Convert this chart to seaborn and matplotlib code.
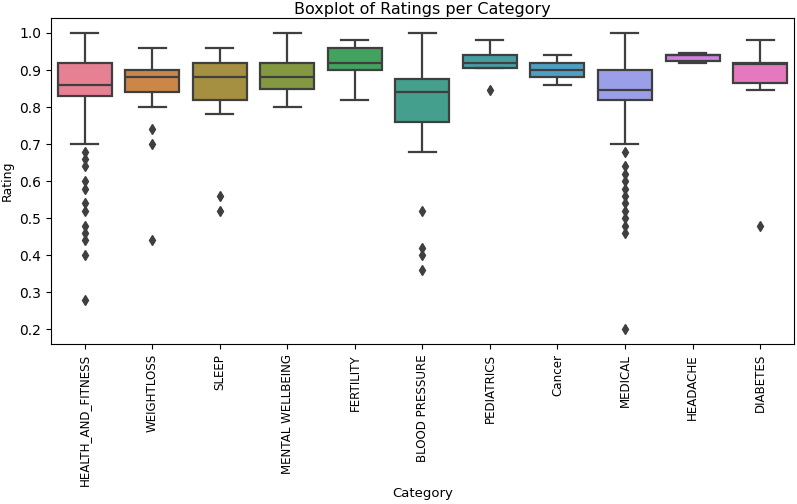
import pandas as pd
import matplotlib
matplotlib.use("Agg")
import matplotlib.pyplot as plt
import seaborn as sns

categories = ["HEALTH_AND_FITNESS", "WEIGHTLOSS", "SLEEP", "MENTAL WELLBEING",
              "FERTILITY", "BLOOD PRESSURE", "PEDIATRICS", "Cancer",
              "MEDICAL", "HEADACHE", "DIABETES"]

health_and_fitness = [0.28, 0.40, 0.44, 0.46, 0.48, 0.52, 0.54, 0.58, 0.60, 0.64, 0.66, 0.68,
                      0.70, 0.83,
                      0.83, 0.84, 0.84, 0.84, 0.84, 0.85, 0.85, 0.85, 0.86, 0.86, 0.86, 0.86,
                      0.86,
                      0.86, 0.87, 0.88, 0.88, 0.88, 0.89, 0.90, 0.90, 0.90, 0.91, 0.92, 0.92,
                      0.92,
                      0.92, 0.93, 0.94, 0.94, 0.95, 0.96, 0.96, 0.97, 0.98, 0.98, 1.0, 1.0,
                      1.0]
weightloss = [0.44, 0.70, 0.74, 0.80, 0.84, 0.86, 0.86, 0.88, 0.88, 0.88, 0.90, 0.90,
              0.90, 0.92, 0.94, 0.96, 0.96]
sleep = [0.52, 0.56, 0.78, 0.82, 0.84, 0.86, 0.88, 0.90, 0.92, 0.92, 0.94, 0.96, 0.96]
mental_wellbeing = [0.80, 0.84, 0.85, 0.86, 0.88, 0.90, 0.92, 0.96, 1.0]
fertility = [0.82, 0.88, 0.90, 0.92, 0.92, 0.94, 0.96, 0.98, 0.98]
blood_pressure = [0.36, 0.40, 0.42, 0.52, 0.68, 0.76, 0.78, 0.80, 0.80, 0.82, 0.84,
                  0.84, 0.86, 0.86, 0.86, 0.875, 0.90, 0.92, 0.96, 1.0, 1.0]
pediatrics = [0.845, 0.905, 0.905, 0.92, 0.92, 0.93, 0.94, 0.96, 0.98]
cancer = [0.86, 0.87, 0.88, 0.89, 0.90, 0.91, 0.92, 0.93, 0.94]
medical = [0.20, 0.46, 0.48, 0.50, 0.52, 0.54, 0.56, 0.58, 0.60, 0.62, 0.64, 0.68,
           0.70, 0.82,
           0.82, 0.82, 0.82, 0.83, 0.83, 0.83, 0.84, 0.84, 0.84, 0.84, 0.845, 0.845,
           0.845,
           0.85, 0.86, 0.86, 0.86, 0.87, 0.88, 0.88, 0.88, 0.89, 0.90, 0.90, 0.90,
           0.90,
           0.90, 0.91, 0.92, 0.92, 0.94, 0.94, 0.95, 0.96, 0.96, 0.98, 1.0, 1.0,
           1.0]
headache = [0.92, 0.925, 0.925, 0.93, 0.94, 0.94, 0.94, 0.94, 0.945]
diabetes = [0.48, 0.845, 0.865, 0.88, 0.915, 0.92, 0.92, 0.96, 0.98]

ratings = [health_and_fitness, weightloss, sleep, mental_wellbeing, fertility,
           blood_pressure, pediatrics, cancer, medical, headache, diabetes]

rows = []
for cat, vals in zip(categories, ratings):
    for v in vals:
        rows.append({"Category": cat, "Rating": v})
df = pd.DataFrame(rows)

line = "#3f3f3f"

fig = plt.figure(figsize=(7.97, 5.04), dpi=100)
ax = fig.add_axes([0.064, 0.317, 0.932, 0.647])
sns.boxplot(x="Category", y="Rating", hue="Category", data=df, order=categories,
            hue_order=categories, palette="husl", saturation=0.75, legend=False,
            linecolor=line, linewidth=1.6, width=0.8, ax=ax,
            flierprops=dict(marker="d", markerfacecolor=line, markeredgecolor=line,
                            markersize=5))
ax.set_title("Boxplot of Ratings per Category", fontsize=11.5, pad=3)
ax.set_xlabel("Category", fontsize=9.5, labelpad=1)
ax.set_ylabel("Rating", fontsize=9)
ax.tick_params(axis="y", labelsize=10)
ax.tick_params(axis="x", labelsize=8.6)
plt.xticks(rotation=90)
fig.savefig("out.png", dpi=100)
